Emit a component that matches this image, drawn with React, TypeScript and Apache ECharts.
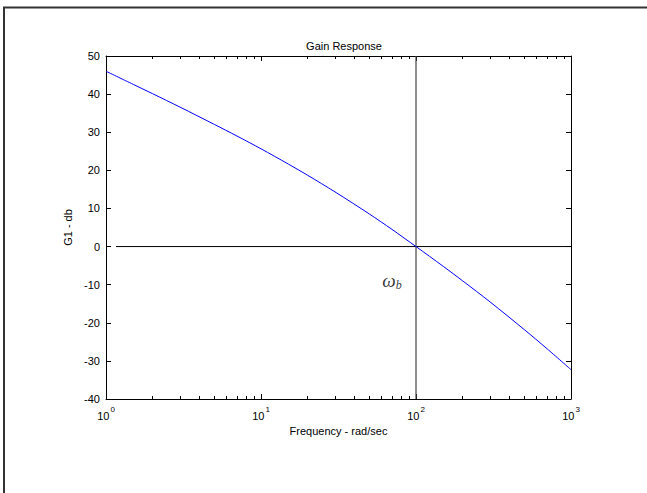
import React, { useEffect, useRef } from "react";
import * as echarts from "echarts";

// Frequency (rad/sec) and gain (dB)
const freq = [1, 1.5, 2, 3, 5, 7, 10, 15, 20, 30, 50, 70, 100, 150, 200, 300, 500, 700, 1000];
const gainDb = [46, 42.55, 40.1, 36.6, 32.05, 29, 25.65, 21.65, 18.7, 14.35, 8.55, 4.5, 0, -5.2, -9.0, -14.5, -21.8, -26.8, -32.3];

// Reference lines
const zeroLineX = [1.16, 1000];
const zeroLineY = [0, 0];
const crossoverFreq = 100;
const crossoverY = [-40, 50];

// Annotation position (data space)
const omegaLabelPos = [70, -9];

// Axis ticks
const xMajorTicks = [1, 10, 100, 1000];
const xMinorTicks = [2, 3, 4, 5, 6, 7, 8, 9, 20, 30, 40, 50, 60, 70, 80, 90, 200, 300, 400, 500, 600, 700, 800, 900];
const yMin = -40;
const yMax = 50;
const yStep = 10;

const FONT = "Liberation Sans";

export default function App() {
  const ref = useRef<HTMLDivElement>(null);

  useEffect(() => {
    if (!ref.current) return;
    const chart = echarts.init(ref.current, undefined, { renderer: "svg" });

    const lineStyle = { color: "#000", width: 1 };
    const baseX = {
      type: "log" as const,
      logBase: 10,
      min: xMajorTicks[0],
      max: xMajorTicks[xMajorTicks.length - 1],
      splitLine: { show: false },
      minorTick: { show: false },
    };

    chart.setOption({
      animation: false,
      backgroundColor: "#fff",
      title: {
        text: "Gain Response",
        left: 339,
        top: 35,
        textAlign: "center",
        textStyle: { fontFamily: FONT, fontSize: 11, fontWeight: "normal", color: "#000" },
      },
      grid: { left: 106, right: 76, top: 56, bottom: 94 },
      xAxis: [
        {
          ...baseX,
          position: "bottom",
          axisLine: { show: true, onZero: false, lineStyle },
          axisTick: { show: true, inside: true, length: 5, customValues: xMajorTicks, lineStyle },
          axisLabel: {
            show: true,
            customValues: xMajorTicks,
            margin: 6,
            formatter: (v: number) => `{b|10}{e|${Math.round(Math.log10(v))}}`,
            rich: {
              b: { fontFamily: FONT, fontSize: 11, color: "#000", verticalAlign: "bottom", lineHeight: 16 },
              e: { fontFamily: FONT, fontSize: 8, color: "#000", verticalAlign: "top", lineHeight: 16, padding: [0, 0, 6, 1] },
            },
          },
          name: "Frequency - rad/sec",
          nameLocation: "middle",
          nameGap: 24,
          nameTextStyle: { fontFamily: FONT, fontSize: 11, color: "#000" },
        },
        {
          ...baseX,
          position: "bottom",
          axisLine: { show: false, onZero: false },
          axisTick: { show: true, inside: true, length: 3, customValues: xMinorTicks, lineStyle },
          axisLabel: { show: false },
        },
        {
          ...baseX,
          position: "top",
          axisLine: { show: true, onZero: false, lineStyle },
          axisTick: { show: true, inside: true, length: 5, customValues: xMajorTicks, lineStyle },
          axisLabel: { show: false },
        },
        {
          ...baseX,
          position: "top",
          axisLine: { show: false, onZero: false },
          axisTick: { show: true, inside: true, length: 3, customValues: xMinorTicks, lineStyle },
          axisLabel: { show: false },
        },
      ],
      yAxis: [
        {
          type: "value",
          min: yMin,
          max: yMax,
          interval: yStep,
          position: "left",
          splitLine: { show: false },
          axisLine: { show: true, onZero: false, lineStyle },
          axisTick: { show: true, inside: true, length: 5, lineStyle },
          axisLabel: { margin: 6, fontFamily: FONT, fontSize: 11, color: "#000" },
          name: "G1 - db",
          nameLocation: "middle",
          nameGap: 32,
          nameTextStyle: { fontFamily: FONT, fontSize: 11, color: "#000" },
        },
        {
          type: "value",
          min: yMin,
          max: yMax,
          interval: yStep,
          position: "right",
          splitLine: { show: false },
          axisLine: { show: true, onZero: false, lineStyle },
          axisTick: { show: true, inside: true, length: 5, lineStyle },
          axisLabel: { show: false },
        },
      ],
      series: [
        {
          type: "line",
          xAxisIndex: 0,
          yAxisIndex: 0,
          data: zeroLineX.map((x, i) => [x, zeroLineY[i]]),
          showSymbol: false,
          symbol: "none",
          lineStyle: { color: "#000", width: 1 },
          silent: true,
        },
        {
          type: "line",
          xAxisIndex: 0,
          yAxisIndex: 0,
          data: crossoverY.map((y) => [crossoverFreq, y]),
          showSymbol: false,
          symbol: "none",
          lineStyle: { color: "#444", width: 1.2 },
          silent: true,
        },
        {
          type: "line",
          xAxisIndex: 0,
          yAxisIndex: 0,
          data: freq.map((f, i) => [f, gainDb[i]]),
          showSymbol: false,
          symbol: "none",
          smooth: 0.3,
          lineStyle: { color: "#0000ff", width: 1 },
          silent: true,
        },
        {
          type: "scatter",
          xAxisIndex: 0,
          yAxisIndex: 0,
          data: [omegaLabelPos],
          symbolSize: 0,
          silent: true,
          label: {
            show: true,
            position: "inside",
            formatter: "{w|ω}{s|b}",
            rich: {
              w: { fontFamily: "Liberation Serif", fontStyle: "italic", fontSize: 19, color: "#000", verticalAlign: "top", lineHeight: 20 },
              s: { fontFamily: "Liberation Serif", fontStyle: "italic", fontSize: 12, color: "#000", verticalAlign: "bottom", lineHeight: 20, padding: [8, 0, 0, 0] },
            },
          },
        },
      ],
      graphic: [
        {
          type: "polyline",
          silent: true,
          shape: { points: [[4, 500], [4, 7.5], [660, 7.5]] },
          style: { stroke: "#333", lineWidth: 2, fill: "none" },
        },
      ],
    });

    return () => chart.dispose();
  }, []);

  return (
    <div
      ref={ref}
      style={{ position: "fixed", left: 0, top: 0, width: 647, height: 493, background: "#fff" }}
    />
  );
}
